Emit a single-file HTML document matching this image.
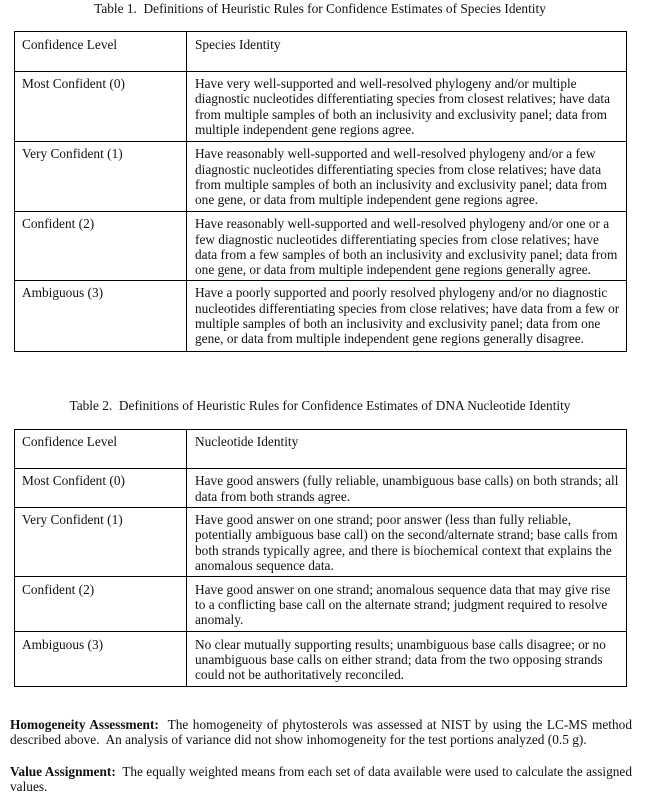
<!DOCTYPE html>
<html>
<head>
<meta charset="utf-8">
<style>
html,body{margin:0;padding:0;background:#fff;}
body{width:658px;height:802px;position:relative;overflow:hidden;font-family:"Liberation Serif","Times New Roman",serif;font-size:13.33px;line-height:15.33px;color:#111;}
.t{position:absolute;white-space:nowrap;}
.h{position:absolute;height:1px;background:#000;}
.v{position:absolute;width:1px;background:#000;}
.c{position:absolute;width:658px;left:-9px;text-align:center;white-space:nowrap;}
.j{position:absolute;left:10px;width:622px;text-align:justify;text-align-last:justify;white-space:normal;}
.l{position:absolute;left:10px;white-space:nowrap;}
b{font-weight:bold;}
</style>
</head>
<body>

<div class="c" style="top:1px;">Table 1.&nbsp; Definitions of Heuristic Rules for Confidence Estimates of Species Identity</div>

<!-- Table 1 lines -->
<div class="h" style="left:14px;width:613px;top:31px;"></div>
<div class="h" style="left:14px;width:613px;top:71px;"></div>
<div class="h" style="left:14px;width:613px;top:141px;"></div>
<div class="h" style="left:14px;width:613px;top:211px;"></div>
<div class="h" style="left:14px;width:613px;top:280px;"></div>
<div class="h" style="left:14px;width:613px;top:351px;"></div>
<div class="v" style="left:14px;top:31px;height:321px;"></div>
<div class="v" style="left:186px;top:31px;height:321px;"></div>
<div class="v" style="left:626px;top:31px;height:321px;"></div>

<div class="t" style="left:22px;top:36.5px;">Confidence Level</div>
<div class="t" style="left:195px;top:36.5px;">Species Identity</div>

<div class="t" style="left:22px;top:76px;">Most Confident (0)</div>
<div class="t" style="left:195px;top:76px;">Have very well-supported and well-resolved phylogeny and/or multiple<br>diagnostic nucleotides differentiating species from closest relatives; have data<br>from multiple samples of both an inclusivity and exclusivity panel; data from<br>multiple independent gene regions agree.</div>

<div class="t" style="left:22px;top:146.3px;">Very Confident (1)</div>
<div class="t" style="left:195px;top:146.3px;">Have reasonably well-supported and well-resolved phylogeny and/or a few<br>diagnostic nucleotides differentiating species from close relatives; have data<br>from multiple samples of both an inclusivity and exclusivity panel; data from<br>one gene, or data from multiple independent gene regions agree.</div>

<div class="t" style="left:22px;top:216.3px;">Confident (2)</div>
<div class="t" style="left:195px;top:216.3px;">Have reasonably well-supported and well-resolved phylogeny and/or one or a<br>few diagnostic nucleotides differentiating species from close relatives; have<br>data from a few samples of both an inclusivity and exclusivity panel; data from<br>one gene, or data from multiple independent gene regions generally agree.</div>

<div class="t" style="left:22px;top:285.3px;">Ambiguous (3)</div>
<div class="t" style="left:195px;top:285.3px;">Have a poorly supported and poorly resolved phylogeny and/or no diagnostic<br>nucleotides differentiating species from close relatives; have data from a few or<br>multiple samples of both an inclusivity and exclusivity panel; data from one<br>gene, or data from multiple independent gene regions generally disagree.</div>

<div class="c" style="top:398px;">Table 2.&nbsp; Definitions of Heuristic Rules for Confidence Estimates of DNA Nucleotide Identity</div>

<!-- Table 2 lines -->
<div class="h" style="left:14px;width:613px;top:429px;"></div>
<div class="h" style="left:14px;width:613px;top:468px;"></div>
<div class="h" style="left:14px;width:613px;top:507px;"></div>
<div class="h" style="left:14px;width:613px;top:576px;"></div>
<div class="h" style="left:14px;width:613px;top:631px;"></div>
<div class="h" style="left:14px;width:613px;top:686px;"></div>
<div class="v" style="left:14px;top:429px;height:258px;"></div>
<div class="v" style="left:186px;top:429px;height:258px;"></div>
<div class="v" style="left:626px;top:429px;height:258px;"></div>

<div class="t" style="left:22px;top:434px;">Confidence Level</div>
<div class="t" style="left:195px;top:434px;">Nucleotide Identity</div>

<div class="t" style="left:22px;top:473.3px;">Most Confident (0)</div>
<div class="t" style="left:195px;top:473.3px;">Have good answers (fully reliable, unambiguous base calls) on both strands; all<br>data from both strands agree.</div>

<div class="t" style="left:22px;top:512px;">Very Confident (1)</div>
<div class="t" style="left:195px;top:512px;">Have good answer on one strand; poor answer (less than fully reliable,<br>potentially ambiguous base call) on the second/alternate strand; base calls from<br>both strands typically agree, and there is biochemical context that explains the<br>anomalous sequence data.</div>

<div class="t" style="left:22px;top:581.7px;">Confident (2)</div>
<div class="t" style="left:195px;top:581.7px;">Have good answer on one strand; anomalous sequence data that may give rise<br>to a conflicting base call on the alternate strand; judgment required to resolve<br>anomaly.</div>

<div class="t" style="left:22px;top:636.7px;">Ambiguous (3)</div>
<div class="t" style="left:195px;top:636.7px;">No clear mutually supporting results; unambiguous base calls disagree; or no<br>unambiguous base calls on either strand; data from the two opposing strands<br>could not be authoritatively reconciled.</div>

<!-- Paragraphs -->
<div class="j" style="top:717px;"><b>Homogeneity Assessment:</b>&nbsp; The homogeneity of phytosterols was assessed at NIST by using the LC-MS method</div>
<div class="l" style="top:732.3px;">described above.&nbsp; An analysis of variance did not show inhomogeneity for the test portions analyzed (0.5 g).</div>

<div class="j" style="top:763.7px;"><b>Value Assignment:</b>&nbsp; The equally weighted means from each set of data available were used to calculate the assigned</div>
<div class="l" style="top:779px;">values.</div>

</body>
</html>
